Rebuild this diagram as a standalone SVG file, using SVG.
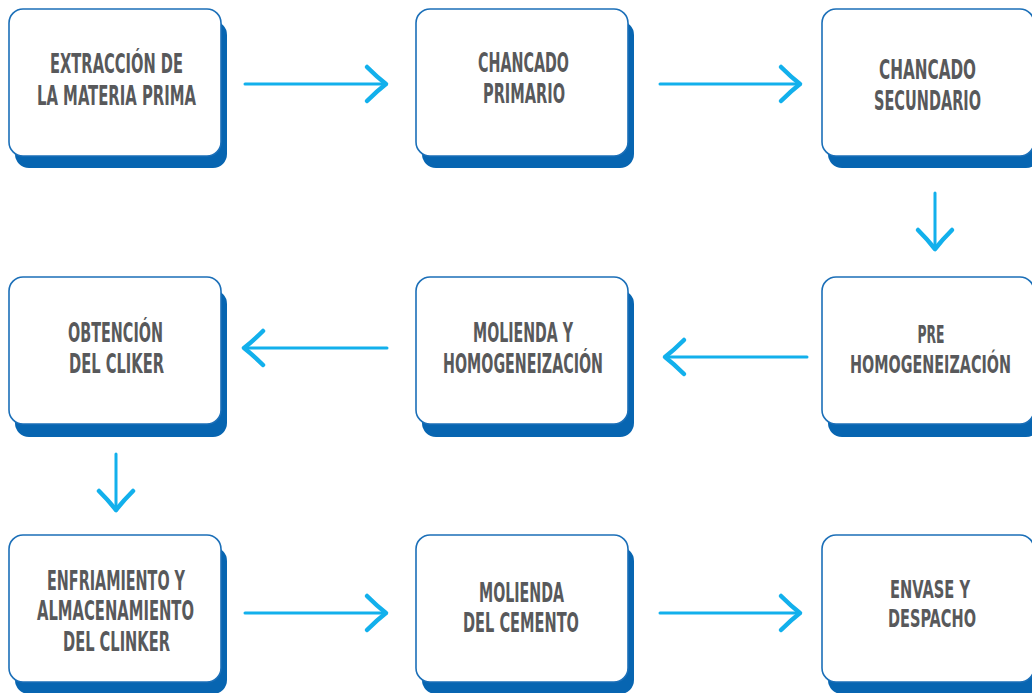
<svg xmlns="http://www.w3.org/2000/svg" width="1032" height="693" viewBox="0 0 1032 693">
<style>
.sh{fill:#0765b1}
.bx{fill:#ffffff;stroke:#1b6fb8;stroke-width:1.6}
.t{font-family:"DejaVu Sans Condensed","Liberation Sans Narrow","Liberation Sans",sans-serif;font-weight:bold;font-size:19px;fill:#58595b;text-anchor:middle}
.t3{font-size:18px}
.c{fill:none;stroke:#12b0ec;stroke-width:3;stroke-linecap:round}
</style>
<defs>
<marker id="ah" markerUnits="userSpaceOnUse" viewBox="-24 -22 30 44" markerWidth="30" markerHeight="44" refX="0" refY="0" orient="auto">
<path d="M-19,-17 Q-9,-7 0,0 Q-9,7 -19,17" fill="none" stroke="#12b0ec" stroke-width="4.5" stroke-linecap="round" stroke-linejoin="round"/>
</marker>
</defs>
<rect width="1032" height="693" fill="#ffffff"/>
<g id="connectors">
<path class="c" d="M245,84 H386" marker-end="url(#ah)"/>
<path class="c" d="M660,84 H800" marker-end="url(#ah)"/>
<path class="c" d="M935,193 V249" marker-end="url(#ah)"/>
<path class="c" d="M807,357 H665" marker-end="url(#ah)"/>
<path class="c" d="M387,348 H244" marker-end="url(#ah)"/>
<path class="c" d="M116,454 V510" marker-end="url(#ah)"/>
<path class="c" d="M245,613 H386" marker-end="url(#ah)"/>
<path class="c" d="M660,613 H800" marker-end="url(#ah)"/>
</g>
<g id="n1">
<rect class="sh" x="15" y="21" width="212" height="147" rx="14"/>
<rect class="bx" x="9" y="9" width="212" height="147" rx="14"/>
<text class="t" transform="translate(116.5,73) scale(1,1.4)" textLength="133" lengthAdjust="spacingAndGlyphs">EXTRACCIÓN DE</text>
<text class="t" transform="translate(116.5,105) scale(1,1.4)" textLength="159" lengthAdjust="spacingAndGlyphs">LA MATERIA PRIMA</text>
</g>
<g id="n2">
<rect class="sh" x="422" y="21" width="212" height="147" rx="14"/>
<rect class="bx" x="416" y="9" width="212" height="147" rx="14"/>
<text class="t" transform="translate(523.5,72) scale(1,1.4)" textLength="91" lengthAdjust="spacingAndGlyphs">CHANCADO</text>
<text class="t" transform="translate(524,103) scale(1,1.4)" textLength="82" lengthAdjust="spacingAndGlyphs">PRIMARIO</text>
</g>
<g id="n3">
<rect class="sh" x="828" y="21" width="212" height="147" rx="14"/>
<rect class="bx" x="822" y="9" width="212" height="147" rx="14"/>
<text class="t" transform="translate(927.5,79) scale(1,1.42)" textLength="97" lengthAdjust="spacingAndGlyphs">CHANCADO</text>
<text class="t" transform="translate(927.5,110) scale(1,1.42)" textLength="107" lengthAdjust="spacingAndGlyphs">SECUNDARIO</text>
</g>
<g id="n4">
<rect class="sh" x="828" y="290" width="212" height="147" rx="14"/>
<rect class="bx" x="822" y="277" width="212" height="147" rx="14"/>
<text class="t t3" transform="translate(931,343) scale(1,1.42)" textLength="27" lengthAdjust="spacingAndGlyphs">PRE</text>
<text class="t t3" transform="translate(930.5,373) scale(1,1.42)" textLength="161" lengthAdjust="spacingAndGlyphs">HOMOGENEIZACIÓN</text>
</g>
<g id="n5">
<rect class="sh" x="422" y="290" width="212" height="147" rx="14"/>
<rect class="bx" x="416" y="277" width="212" height="147" rx="14"/>
<text class="t" transform="translate(523,342) scale(1,1.4)" textLength="100" lengthAdjust="spacingAndGlyphs">MOLIENDA Y</text>
<text class="t" transform="translate(523,373) scale(1,1.4)" textLength="160" lengthAdjust="spacingAndGlyphs">HOMOGENEIZACIÓN</text>
</g>
<g id="n6">
<rect class="sh" x="15" y="290" width="212" height="147" rx="14"/>
<rect class="bx" x="9" y="277" width="212" height="147" rx="14"/>
<text class="t" transform="translate(115.5,342) scale(1,1.4)" textLength="95" lengthAdjust="spacingAndGlyphs">OBTENCIÓN</text>
<text class="t" transform="translate(116.5,373) scale(1,1.4)" textLength="95" lengthAdjust="spacingAndGlyphs">DEL CLIKER</text>
</g>
<g id="n7">
<rect class="sh" x="15" y="547" width="212" height="147" rx="14"/>
<rect class="bx" x="9" y="535" width="212" height="147" rx="14"/>
<text class="t" transform="translate(116,590) scale(1,1.4)" textLength="138" lengthAdjust="spacingAndGlyphs">ENFRIAMIENTO Y</text>
<text class="t" transform="translate(115.5,620) scale(1,1.4)" textLength="157" lengthAdjust="spacingAndGlyphs">ALMACENAMIENTO</text>
<text class="t" transform="translate(116.5,651) scale(1,1.4)" textLength="107" lengthAdjust="spacingAndGlyphs">DEL CLINKER</text>
</g>
<g id="n8">
<rect class="sh" x="422" y="547" width="212" height="147" rx="14"/>
<rect class="bx" x="416" y="535" width="212" height="147" rx="14"/>
<text class="t" transform="translate(521.5,602) scale(1,1.4)" textLength="85" lengthAdjust="spacingAndGlyphs">MOLIENDA</text>
<text class="t" transform="translate(521,632) scale(1,1.4)" textLength="116" lengthAdjust="spacingAndGlyphs">DEL CEMENTO</text>
</g>
<g id="n9">
<rect class="sh" x="828" y="547" width="212" height="147" rx="14"/>
<rect class="bx" x="822" y="535" width="212" height="147" rx="14"/>
<text class="t t3" transform="translate(930,598) scale(1,1.38)" textLength="80" lengthAdjust="spacingAndGlyphs">ENVASE Y</text>
<text class="t t3" transform="translate(932,627) scale(1,1.38)" textLength="88" lengthAdjust="spacingAndGlyphs">DESPACHO</text>
</g>
</svg>
